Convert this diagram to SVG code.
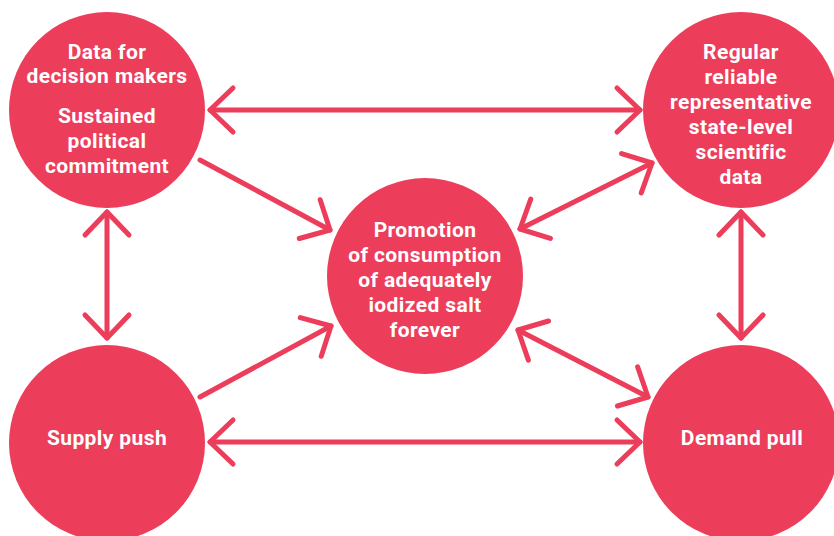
<svg xmlns="http://www.w3.org/2000/svg" width="834" height="536" viewBox="0 0 834 536">
<defs>
<style>
.node{fill:#EC3D5A}
.lbl{font-family:Roboto,"Liberation Sans",sans-serif;font-weight:bold;font-size:21px;letter-spacing:0.4px;fill:#fff;text-anchor:middle}
.con{stroke:#EC3D5A;stroke-width:5;stroke-linecap:round;fill:none}
.head{stroke:#EC3D5A;stroke-width:5;stroke-linecap:round;stroke-linejoin:round;fill:none}
</style>
<marker id="ah" markerUnits="userSpaceOnUse" markerWidth="60" markerHeight="60" refX="0" refY="0" orient="auto-start-reverse" overflow="visible" viewBox="-30 -30 60 60">
<path class="head" d="M-23,-22 L0,0 L-23,22"/>
</marker>
</defs>
<rect width="834" height="536" fill="#fff"/>
<g id="connectors">
<line class="con" x1="210" y1="110" x2="640" y2="110" marker-start="url(#ah)" marker-end="url(#ah)"/>
<line class="con" x1="210" y1="442" x2="640" y2="442" marker-start="url(#ah)" marker-end="url(#ah)"/>
<line class="con" x1="107" y1="212" x2="107" y2="338" marker-start="url(#ah)" marker-end="url(#ah)"/>
<line class="con" x1="741" y1="212" x2="741" y2="338" marker-start="url(#ah)" marker-end="url(#ah)"/>
<line class="con" x1="200" y1="160" x2="330" y2="230" marker-end="url(#ah)"/>
<line class="con" x1="200" y1="397" x2="331" y2="326" marker-end="url(#ah)"/>
<line class="con" x1="520" y1="229" x2="652" y2="163" marker-start="url(#ah)" marker-end="url(#ah)"/>
<line class="con" x1="518" y1="330" x2="648" y2="397" marker-start="url(#ah)" marker-end="url(#ah)"/>
</g>
<g id="data-decision">
<circle class="node" cx="107" cy="110" r="98"/>
<text class="lbl"><tspan x="107" y="59">Data for</tspan><tspan x="107" y="83">decision makers</tspan><tspan x="107" y="123">Sustained</tspan><tspan x="107" y="148">political</tspan><tspan x="107" y="173">commitment</tspan></text>
</g>
<g id="regular-data">
<circle class="node" cx="741" cy="110" r="98"/>
<text class="lbl"><tspan x="741" y="59">Regular</tspan><tspan x="741" y="84">reliable</tspan><tspan x="741" y="109">representative</tspan><tspan x="741" y="134">state-level</tspan><tspan x="741" y="159">scientific</tspan><tspan x="741" y="184">data</tspan></text>
</g>
<g id="promotion">
<circle class="node" cx="425" cy="276" r="98"/>
<text class="lbl"><tspan x="425" y="237">Promotion</tspan><tspan x="425" y="262">of consumption</tspan><tspan x="425" y="287">of adequately</tspan><tspan x="425" y="312">iodized salt</tspan><tspan x="425" y="337">forever</tspan></text>
</g>
<g id="supply-push">
<circle class="node" cx="107" cy="443" r="98"/>
<text class="lbl" x="107" y="445">Supply push</text>
</g>
<g id="demand-pull">
<circle class="node" cx="741" cy="443" r="98"/>
<text class="lbl" x="742" y="445">Demand pull</text>
</g>
</svg>
